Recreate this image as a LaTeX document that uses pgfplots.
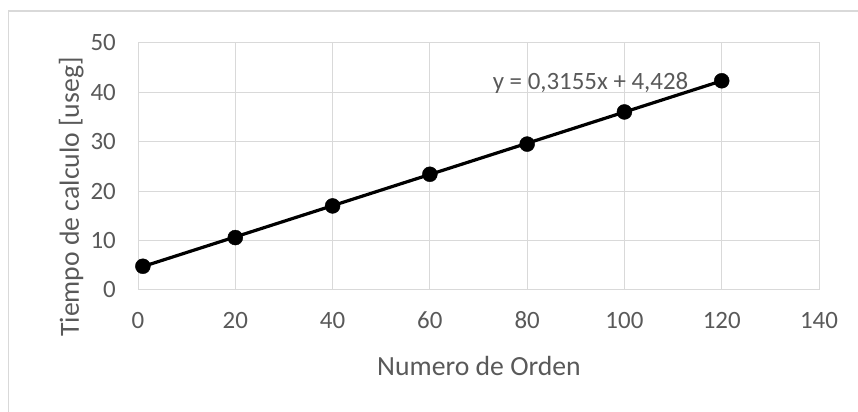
\documentclass[border=0pt]{standalone}
\usepackage{pgfplots}
\pgfplotsset{compat=1.18}
\usepackage{fontspec}
\setmainfont{Carlito}
\definecolor{txtgray}{HTML}{595959}
\definecolor{gridgray}{HTML}{D9D9D9}
\begin{document}
\begin{tikzpicture}
\useasboundingbox (0,0) rectangle (858bp,412bp);
\draw[color=gridgray, line width=1.2bp] (8.5bp,-20bp) -- (8.5bp,401bp) -- (880bp,401bp);
\begin{axis}[
  at={(138bp,122bp)}, anchor=south west,
  scale only axis, width=681bp, height=247.3bp,
  xmin=0, xmax=140, ymin=0, ymax=50,
  xtick={0,20,...,140}, ytick={0,10,...,50},
  grid=major,
  major grid style={gridgray, line width=1bp},
  axis line style={gridgray, line width=1bp},
  tick style={draw=none},
  /pgf/number format/assume math mode=true,
  ticklabel style={font=\fontsize{25}{30}\selectfont, text=txtgray, inner sep=0pt},
  xticklabel style={anchor=base, yshift=-39bp},
  yticklabel style={anchor=east, xshift=-22bp},
  xlabel={Numero de Orden},
  ylabel={Tiempo de calculo [useg]},
  label style={font=\fontsize{27.8}{33}\selectfont, text=txtgray, inner sep=0pt},
  xlabel style={at={(axis description cs:0.5007,-0.344)}, anchor=base},
  ylabel style={at={(axis description cs:-0.098,0.376)}, anchor=center},
  clip=false,
]
\addplot[black, line width=3.2bp, no marks] coordinates {(1,4.7435) (120,42.288)};
\addplot[only marks, mark=*, mark size=7.5bp, black] coordinates {
(1,4.8) (20,10.6) (40,17.0) (60,23.4) (80,29.5) (100,36.0) (120,42.3)};
\node[anchor=base west, inner sep=0pt, text=txtgray, font=\fontsize{25}{30}\selectfont] at (axis cs:72.9,40.55) {y = 0,3155x + 4,428};
\end{axis}
\end{tikzpicture}
\end{document}
